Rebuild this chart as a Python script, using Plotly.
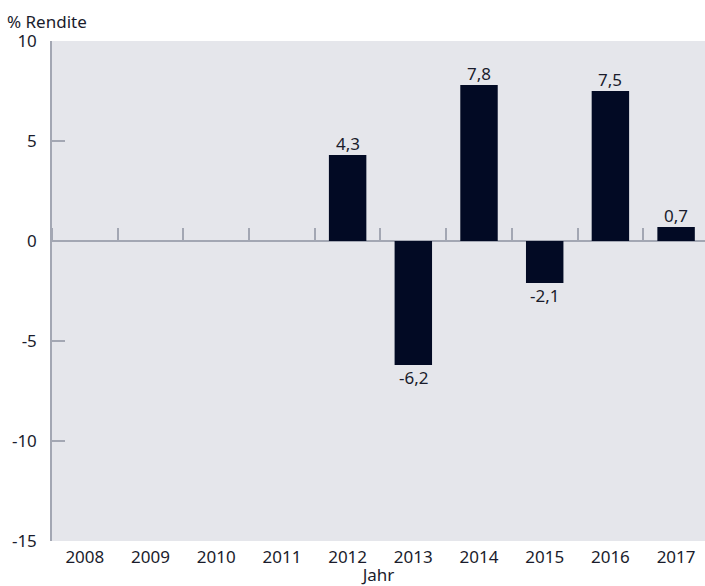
import plotly.graph_objects as go

years = ["2008", "2009", "2010", "2011", "2012", "2013", "2014", "2015", "2016", "2017"]
returns = [None, None, None, None, 4.3, -6.2, 7.8, -2.1, 7.5, 0.7]
y_ticks = [-15, -10, -5, 0, 5, 10]
y_tick_text = ["-15", "-10", "-5", "0", "5", "10"]

font_fam = "Noto Sans"
txt_col = "#1a1c2c"
axis_col = "#a3a7b3"
fs = 17

fig = go.Figure()
fig.add_trace(go.Bar(
    x=years, y=returns,
    marker=dict(color="#020a24", line=dict(width=0)),
    width=0.57, hoverinfo="x+y",
))
# invisible trace for the tick axis on the zero line
fig.add_trace(go.Scatter(x=years, y=[0]*len(years), xaxis="x2", mode="markers",
                         marker=dict(opacity=0), hoverinfo="skip", showlegend=False))

# value labels (German decimal comma); x given as category index
for i, v in enumerate(returns):
    if v is None:
        continue
    fig.add_annotation(x=i, y=v, xref="x", yref="y",
                       text=f"{v:.1f}".replace(".", ","), showarrow=False,
                       yanchor="bottom" if v >= 0 else "top", yshift=-2 if v >= 0 else 1,
                       font=dict(size=fs, color=txt_col, family=font_fam))

xrange = [-0.5, 9.44]
fig.update_layout(
    width=705, height=586,
    margin=dict(l=52, r=0, t=41, b=45),
    paper_bgcolor="white", plot_bgcolor="#e5e6eb",
    showlegend=False,
    font=dict(family=font_fam, size=fs, color=txt_col),
    xaxis=dict(type="category", categoryorder="array", categoryarray=years,
               range=xrange, showgrid=False, ticks="", showline=False,
               zeroline=False, automargin=False, ticklabelstandoff=4,
               tickfont=dict(size=fs, color=txt_col),
               title=dict(text="Jahr", standoff=0, font=dict(size=fs, color=txt_col))),
    xaxis2=dict(type="category", categoryorder="array", categoryarray=years,
                range=xrange, overlaying="x", anchor="free", position=0.6,
                side="top", ticks="outside", tickson="boundaries", ticklen=13,
                tickwidth=1.5, tickcolor=axis_col, showticklabels=False, automargin=False,
                showgrid=False, showline=False, zeroline=False),
    yaxis=dict(range=[-15, 10], tickvals=y_ticks, ticktext=y_tick_text, ticks="inside",
               ticklen=13, tickwidth=1.5, tickcolor=axis_col, showline=True,
               linecolor=axis_col, linewidth=1.5, showgrid=False, zeroline=True,
               zerolinecolor=axis_col, zerolinewidth=1.5, automargin=False,
               ticklabelstandoff=10, tickfont=dict(size=fs, color=txt_col)),
    bargap=0.43,
)
fig.add_annotation(text="% Rendite", xref="paper", yref="paper", x=0, y=1,
                   xanchor="left", yanchor="bottom", xshift=-47, yshift=6,
                   showarrow=False, font=dict(size=fs, color=txt_col, family=font_fam))

fig.write_html("out.html", config={"displayModeBar": False},
               post_script="document.body.style.margin='0';document.body.style.overflow='hidden';")
